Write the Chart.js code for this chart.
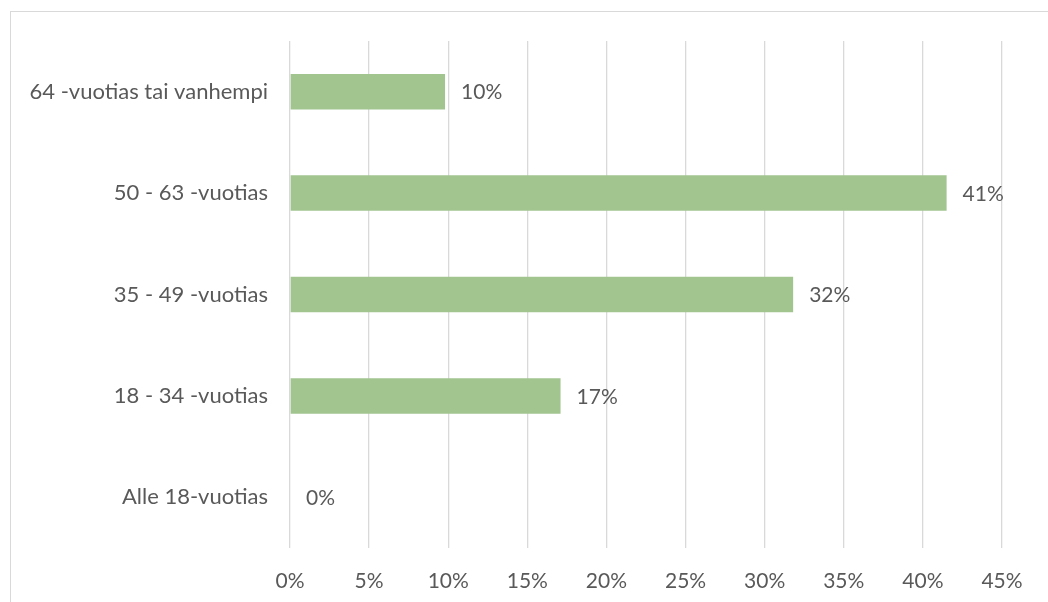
<!DOCTYPE html>
<html>
<head>
<meta charset="utf-8">
<script src="https://cdn.jsdelivr.net/npm/chart.js@4/dist/chart.umd.min.js"></script>
<style>
    html, body { margin: 0; padding: 0; background: #fff; overflow: hidden; }
    #frame {
        position: absolute;
        left: 10px;
        top: 11px;
        width: 1100px;
        height: 700px;
        border: 1.3px solid #d9d9d9;
    }
    #wrap { position: absolute; left: 0; top: 0; width: 1048px; height: 602px; }
</style>
</head>
<body>
<div id="frame"></div>
<div id="wrap"><canvas id="ageChart"></canvas></div>
<script>
// Data
const categories = ['64 -vuotias tai vanhempi', '50 - 63 -vuotias', '35 - 49 -vuotias', '18 - 34 -vuotias', 'Alle 18-vuotias'];
const shares = [9.8, 41.5, 31.8, 17.1, 0];
const shareLabels = ['10%', '41%', '32%', '17%', '0%'];
const xTicks = [0, 5, 10, 15, 20, 25, 30, 35, 40, 45];

const textColor = '#595959';
const fontFamily = 'Lato, "Open Sans", sans-serif';

// Value labels at the bar ends
const valueLabels = {
    id: 'valueLabels',
    afterDatasetsDraw(chart) {
        const ctx = chart.ctx;
        const meta = chart.getDatasetMeta(0);
        ctx.save();
        ctx.fillStyle = textColor;
        ctx.font = '21px ' + fontFamily;
        ctx.textAlign = 'left';
        ctx.textBaseline = 'middle';
        meta.data.forEach((bar, i) => {
            ctx.fillText(shareLabels[i], bar.x + 16, bar.y + 1);
        });
        ctx.restore();
    }
};

const ctx = document.getElementById('ageChart').getContext('2d');
new Chart(ctx, {
    type: 'bar',
    data: {
        labels: categories,
        datasets: [{
            data: shares,
            backgroundColor: '#a2c590',
            borderWidth: 0,
            categoryPercentage: 1,
            barPercentage: 0.35
        }]
    },
    options: {
        indexAxis: 'y',
        responsive: true,
        maintainAspectRatio: false,
        animation: false,
        layout: { padding: { top: 41, right: 46, bottom: 0, left: 0 } },
        plugins: {
            legend: { display: false },
            tooltip: { enabled: false }
        },
        scales: {
            x: {
                min: 0,
                max: 45,
                afterBuildTicks: (scale) => { scale.ticks = xTicks.map(v => ({ value: v })); },
                afterFit: (scale) => { scale.height = 54; },
                grid: { color: '#d9d9d9', lineWidth: 1.3, drawTicks: false },
                border: { display: false },
                ticks: {
                    padding: 21,
                    color: textColor,
                    font: { family: fontFamily, size: 21 },
                    maxRotation: 0,
                    callback: (v) => v + '%'
                }
            },
            y: {
                afterFit: (scale) => { scale.width = 290; },
                grid: { display: false, drawTicks: false },
                border: { display: false },
                ticks: {
                    padding: 22,
                    color: textColor,
                    font: { family: fontFamily, size: 22 }
                }
            }
        }
    },
    plugins: [valueLabels]
});
</script>
</body>
</html>
